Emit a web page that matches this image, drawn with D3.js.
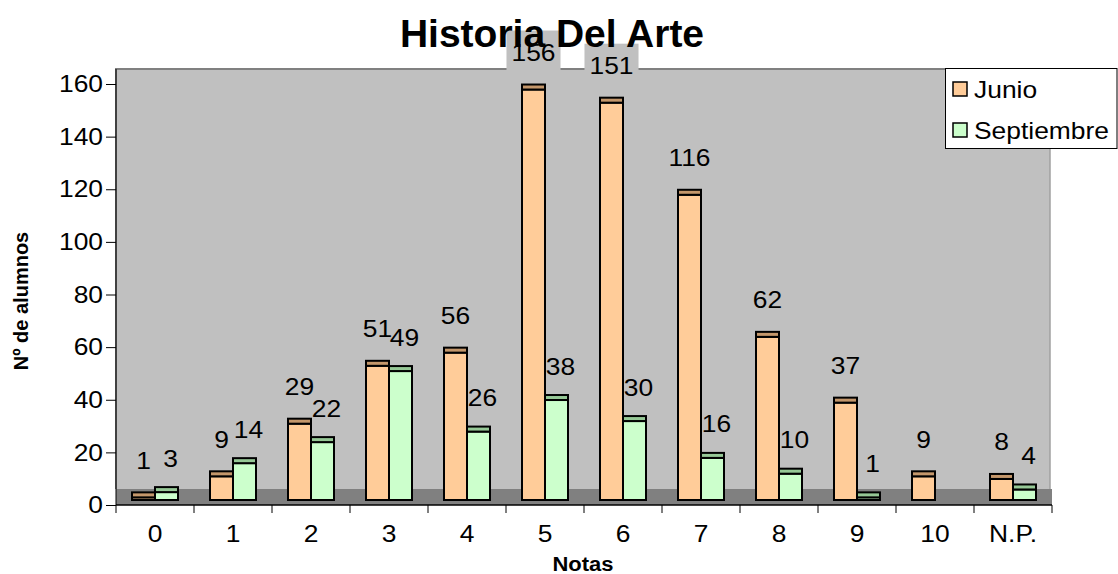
<!DOCTYPE html>
<html><head><meta charset="utf-8">
<script src="https://cdn.jsdelivr.net/npm/d3@7"></script>
<style>
html,body{margin:0;padding:0;background:#fff;}
svg{display:block;font-family:Arial,"Liberation Sans",sans-serif;}
</style></head>
<body>
<svg id="c" width="1118" height="574"></svg>
<script>
const categories = ["0","1","2","3","4","5","6","7","8","9","10","N.P."];
const junio = [1,9,29,51,56,156,151,116,62,37,9,8];
const septiembre = [3,14,22,49,26,38,30,16,10,1,null,4];
const yTicks = [0,20,40,60,80,100,120,140,160];
const seriesNames = ["Junio","Septiembre"];

const svg = d3.select("#c");
const pLeft = 116, pRight = 1052, wallRight = 1050, pTop = 69, axisY = 505, floorTop = 489;
const depth = 5;
const STRETCH = 1.1;

function stretch(sel){
  sel.each(function(){
    const w = this.getComputedTextLength();
    if(w>0){ this.setAttribute("textLength", w*STRETCH); this.setAttribute("lengthAdjust","spacingAndGlyphs"); }
  });
}

const x = d3.scaleBand().domain(categories).range([pLeft, pRight]).padding(0);
const y = d3.scaleLinear().domain([0,160]).range([axisY, 84]);
const inner = d3.scaleBand().domain(seriesNames).range([0, 46]);
const faceCol = {Junio:"#FFCC99", Septiembre:"#CCFFCC"};
const topCol = {Junio:"#C4976B", Septiembre:"#96C896"};

// wall
svg.append("rect").attr("x",pLeft).attr("y",pTop).attr("width",wallRight-pLeft).attr("height",floorTop-pTop).attr("fill","#C0C0C0");
svg.append("path").attr("d",`M${pLeft},${floorTop}V${pTop}H${wallRight}`).attr("fill","none").attr("stroke","#808080").attr("stroke-width",2);
svg.append("line").attr("x1",wallRight).attr("x2",wallRight).attr("y1",pTop).attr("y2",floorTop).attr("stroke","#A0A0A0").attr("stroke-width",1.5);
// floor
svg.append("rect").attr("x",pLeft).attr("y",floorTop).attr("width",pRight-pLeft).attr("height",axisY-floorTop).attr("fill","#808080");

const series = seriesNames.map((name,si)=>({name, values: si===0?junio:septiembre}));
const offs = {Junio:-42, Septiembre:-39};
const dxs = {Junio:0, Septiembre:4};

function barX(cat,name){ return x(cat) + (x.bandwidth()-46)/2 + inner(name); }

// data labels (drawn behind bars)
const labG = svg.append("g").attr("font-size",24).attr("fill","#000");
series.forEach(s=>{
  categories.forEach((c,i)=>{
    const v = s.values[i];
    if(v==null) return;
    const cx = barX(c,s.name)+inner.bandwidth()/2 + dxs[s.name];
    const cy = y(v)+offs[s.name];
    const t = labG.append("text").attr("x",cx).attr("y",cy).attr("text-anchor","middle").attr("dominant-baseline","central").text(v);
    const w = t.node().getComputedTextLength()*STRETCH;
    stretch(t);
    labG.insert("rect","text").attr("x",cx-w/2-5).attr("y",cy-22).attr("width",w+10).attr("height",40).attr("fill","#C0C0C0");
  });
});

// bars
const barG = svg.append("g");
series.forEach(s=>{
  categories.forEach((c,i)=>{
    const v = s.values[i];
    if(v==null) return;
    const bx = barX(c,s.name), bw = inner.bandwidth();
    const yv = y(v)-depth, y0 = y(0)-depth;
    barG.append("rect").attr("x",bx).attr("y",yv).attr("width",bw).attr("height",y0-yv)
      .attr("fill",faceCol[s.name]).attr("stroke","#000").attr("stroke-width",2);
    barG.append("rect").attr("x",bx).attr("y",yv-depth).attr("width",bw).attr("height",depth)
      .attr("fill",topCol[s.name]).attr("stroke","#000").attr("stroke-width",2);
  });
});

// axes
const yAxis = d3.axisLeft(y).tickValues(yTicks).tickSize(10).tickPadding(3);
const gy = svg.append("g").attr("transform",`translate(${pLeft},0)`).call(yAxis);
gy.select(".domain").attr("stroke","#000").attr("d",`M0,${axisY}V${pTop}`);
gy.selectAll("text").attr("font-size",24).attr("font-family","Arial,'Liberation Sans',sans-serif").attr("fill","#000").call(stretch);
gy.selectAll(".tick line").attr("stroke","#000");

const xAxis = d3.axisBottom(x).tickSize(0).tickPadding(20);
const gx = svg.append("g").attr("transform",`translate(0,${axisY})`).call(xAxis);
gx.select(".domain").attr("stroke","#000").attr("stroke-width",1.5).attr("d",`M${pLeft},0H${pRight}`);
gx.selectAll("text").attr("font-size",24).attr("font-family","Arial,'Liberation Sans',sans-serif").attr("fill","#000").call(stretch);
const bounds = categories.map(c=>x(c)).concat([pRight]);
gx.selectAll(".bnd").data(bounds).enter().append("line").attr("x1",d=>d).attr("x2",d=>d).attr("y1",0).attr("y2",8).attr("stroke","#000");

// axis titles
svg.append("text").attr("x",(pLeft+pRight)/2-1).attr("y",571).attr("text-anchor","middle").attr("font-size",20).attr("font-weight","bold").text("Notas").call(stretch);
svg.append("text").attr("transform","translate(28,301) rotate(-90)").attr("text-anchor","middle").attr("font-size",20).attr("font-weight","bold").text("Nº de alumnos");

// title
svg.append("text").attr("x",552).attr("y",47).attr("text-anchor","middle").attr("font-size",39).attr("font-weight","bold").text("Historia Del Arte");

// legend
const lg = svg.append("g");
lg.append("rect").attr("x",945.5).attr("y",68.5).attr("width",171.5).attr("height",80).attr("fill","#fff").attr("stroke","#000");
seriesNames.forEach((n,i)=>{
  const ly = 89 + i*41;
  lg.append("rect").attr("x",953).attr("y",ly-7).attr("width",14).attr("height",14).attr("fill",faceCol[n]).attr("stroke","#000").attr("stroke-width",1.5);
  lg.append("text").attr("x",974).attr("y",ly).attr("dominant-baseline","central").attr("font-size",24).text(n).call(stretch);
});
</script>
</body></html>
